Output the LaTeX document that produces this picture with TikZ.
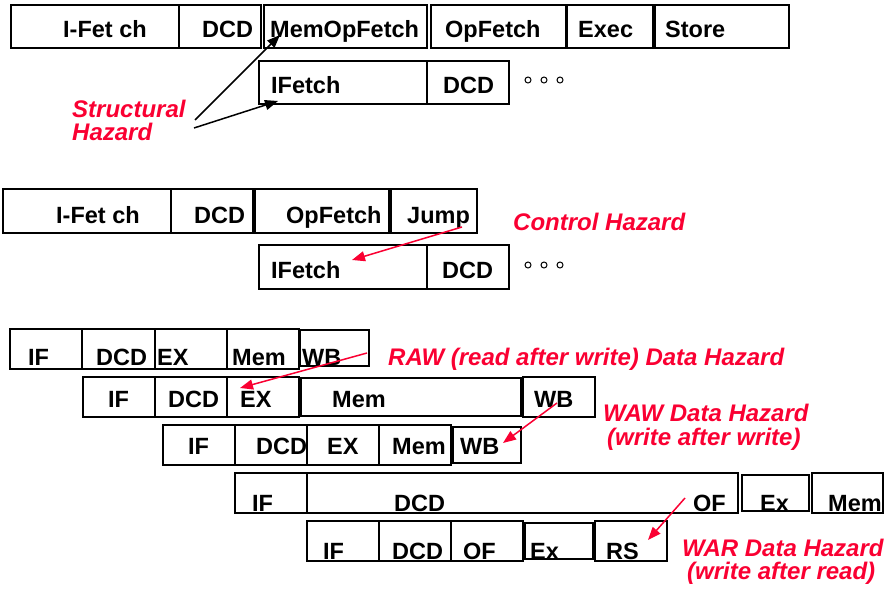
\documentclass[tikz,border=0pt]{standalone}
\usepackage{fontspec}
\setmainfont{Liberation Sans}
\usetikzlibrary{arrows.meta}
\definecolor{hz}{RGB}{250,0,50}
\newcommand\stage[5]{\node[stg,minimum width={(#4-#2)*1pt},minimum height={(#5-#3)*1pt}] (#1) at (#2,#3) {};}
\newcommand\txt[4]{\node[lbl] (#1) at (#2,#3) {#4};}
\newcommand\htxt[4]{\node[hzl] (#1) at (#2,#3) {#4};}
\begin{document}
\begin{tikzpicture}[x=1pt,y=-1pt,
  stg/.style={draw=black,line width=1.8pt,anchor=north west,inner sep=0pt,outer sep=0pt},
  lbl/.style={anchor=base west,inner sep=0pt,font=\fontsize{23.5}{27}\selectfont\bfseries},
  hzl/.style={anchor=base west,inner sep=0pt,text=hz,font=\fontsize{24}{26}\selectfont\bfseries\itshape},
  blk/.style={draw=black,line width=1.5pt,-{Triangle[length=13pt,width=10pt]}},
  red/.style={draw=hz,line width=1.5pt,-{Triangle[length=13pt,width=10pt]}},
  dot/.style={draw=black,line width=1pt,circle,minimum size=6pt,inner sep=0pt}]
\useasboundingbox (0,0) rectangle (892,589);
% ---- Row 1
\stage{r1a}{11}{5}{179}{48}
\stage{r1b}{179}{5}{261}{48}
\stage{r1c}{264}{5}{427}{48}
\stage{r1d}{431}{5}{566}{48}
\stage{r1e}{567}{5}{653}{48}
\stage{r1f}{655}{5}{789}{48}
\txt{t1a}{63}{37}{I-Fet ch}
\txt{t1b}{202}{37}{DCD}
\txt{t1c}{270}{37}{MemOpFetch}
\txt{t1d}{445}{37}{OpFetch}
\txt{t1e}{578}{37}{Exec}
\txt{t1f}{665}{37}{Store}
% ---- Row 2
\stage{r2a}{259}{61}{427}{104}
\stage{r2b}{427}{61}{509}{104}
\txt{t2a}{271}{93}{IFetch}
\txt{t2b}{443}{93}{DCD}
\node[dot] (d1) at (528,80) {};
\node[dot] (d2) at (544,80) {};
\node[dot] (d3) at (560,80) {};
% structural hazard
\htxt{sh1}{72}{117}{Structural}
\htxt{sh2}{72}{140}{Hazard}
\coordinate (s1a) at (195,120);
\coordinate (s1b) at (280,35);
\coordinate (s2a) at (194,128);
\coordinate (s2b) at (278,101);
\draw[blk] (s1a) -- (s1b);
\draw[blk] (s2a) -- (s2b);
% ---- Row 3
\stage{r3a}{3}{189}{171}{233}
\stage{r3b}{171}{189}{253}{233}
\stage{r3c}{255}{189}{389}{233}
\stage{r3d}{391}{189}{477}{233}
\txt{t3a}{56}{223}{I-Fet ch}
\txt{t3b}{194}{223}{DCD}
\txt{t3c}{286}{223}{OpFetch}
\txt{t3d}{407}{223}{Jump}
% ---- Row 4
\stage{r4a}{259}{245}{427}{289}
\stage{r4b}{427}{245}{509}{289}
\txt{t4a}{271}{278}{IFetch}
\txt{t4b}{442}{278}{DCD}
\node[dot] (d4) at (528,265) {};
\node[dot] (d5) at (544,265) {};
\node[dot] (d6) at (560,265) {};
\htxt{ch}{513}{230}{Control Hazard}
\coordinate (c1a) at (462,227);
\coordinate (c1b) at (352,260);
\draw[red] (c1a) -- (c1b);
% ---- Row A
\stage{ra1}{10}{329}{82}{369}
\stage{ra2}{82}{329}{155}{369}
\stage{ra3}{155}{329}{227}{369}
\stage{ra4}{227}{329}{299}{369}
\stage{ra5}{300}{330}{369}{366}
\txt{ta1}{28}{365}{IF}
\txt{ta2}{96}{365}{DCD}
\txt{ta3}{157}{365}{EX}
\txt{ta4}{232}{365}{Mem}
\txt{ta5}{302}{365}{WB}
% ---- Row B
\stage{rb1}{83}{377}{155}{417}
\stage{rb2}{155}{377}{227}{417}
\stage{rb3}{227}{377}{299}{417}
\stage{rb4}{301}{378}{521}{416}
\stage{rb5}{523}{377}{595}{417}
\txt{tb1}{108}{407}{IF}
\txt{tb2}{168}{407}{DCD}
\txt{tb3}{240}{407}{EX}
\txt{tb4}{332}{407}{Mem}
\txt{tb5}{534}{407}{WB}
% ---- Row C
\stage{rc1}{163}{425}{235}{465}
\stage{rc2}{235}{425}{307}{465}
\stage{rc3}{307}{425}{379}{465}
\stage{rc4}{379}{425}{451}{465}
\stage{rc5}{453}{427}{521}{463}
\txt{tc1}{188}{454}{IF}
\txt{tc2}{256}{454}{DCD}
\txt{tc3}{327}{454}{EX}
\txt{tc4}{392}{454}{Mem}
\txt{tc5}{460}{454}{WB}
% RAW / WAW
\htxt{raw}{388}{365}{RAW (read after write) Data Hazard}
\coordinate (rawa) at (367,353);
\coordinate (rawb) at (240,388);
\draw[red] (rawa) -- (rawb);
\htxt{waw1}{603}{421}{WAW Data Hazard}
\htxt{waw2}{607}{445}{(write after write)}
\coordinate (wawa) at (557,403);
\coordinate (wawb) at (503,443);
\draw[red] (wawa) -- (wawb);
% ---- Row D
\stage{rd1}{235}{473}{307}{513}
\stage{rd2}{307}{473}{738}{513}
\stage{rd3}{742}{475}{809}{511}
\stage{rd4}{812}{473}{883}{513}
\txt{td1}{252}{511}{IF}
\txt{td2}{394}{511}{DCD}
\txt{td3}{693}{511}{OF}
\txt{td4}{760}{511}{Ex}
\txt{td5}{828}{511}{Mem}
% ---- Row E
\stage{re1}{307}{521}{379}{561}
\stage{re2}{379}{521}{451}{561}
\stage{re3}{451}{521}{523}{561}
\stage{re4}{525}{523}{593}{559}
\stage{re5}{595}{521}{667}{561}
\txt{te1}{323}{559}{IF}
\txt{te2}{392}{559}{DCD}
\txt{te3}{463}{559}{OF}
\txt{te4}{530}{559}{Ex}
\txt{te5}{606}{559}{RS}
% WAR
\htxt{war1}{682}{556}{WAR Data Hazard}
\htxt{war2}{687}{579}{(write after read)}
\coordinate (wara) at (685,498);
\coordinate (warb) at (648,540);
\draw[red] (wara) -- (warb);
\end{tikzpicture}
\end{document}
